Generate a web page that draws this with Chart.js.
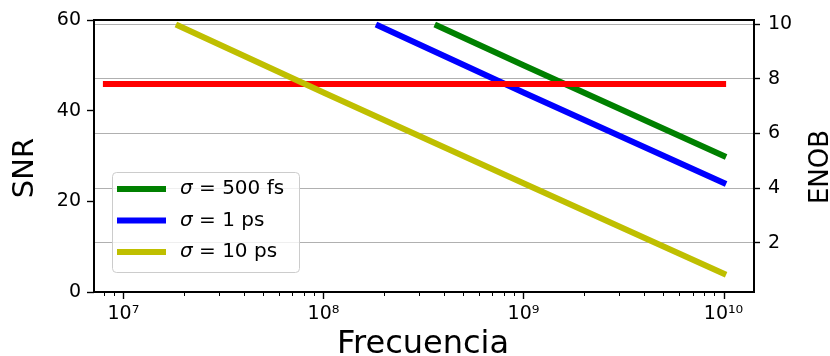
<!DOCTYPE html>
<html>
<head>
<meta charset="utf-8">
<script src="https://cdn.jsdelivr.net/npm/chart.js@4.4.0/dist/chart.umd.min.js"></script>
<style>
  html, body { margin: 0; padding: 0; background: #fff; }
  #wrap { width: 830px; height: 356px; }
</style>
</head>
<body>
<div id="wrap"><canvas id="snrChart"></canvas></div>
<script>
// values
const seriesLabels = ['σ = 500 fs', 'σ = 1 ps', 'σ = 10 ps'];
const seriesColors = ['#008000', '#0000ff', '#bfbf00'];

const freq500fs = [3.6e8, 1e9, 1.03e10];
const snr500fs = [59, 50, 29.8];
const freq1ps = [1.83e8, 1e9, 1.03e10];
const snr1ps = [59, 44, 23.8];
const freq10ps = [1.83e7, 1e8, 1e9, 1.03e10];
const snr10ps = [59, 44, 24, 3.8];
const freqLimit = [7.9e6, 1.03e10];
const snrLimit = [45.9, 45.9];

const snrTicks = [0, 20, 40, 60];
const enobTicks = [2, 4, 6, 8, 10];

const FONT = 'DejaVu Sans';
Chart.defaults.font.family = FONT;
Chart.defaults.color = '#000';

function points(xs, ys) {
    return xs.map((x, i) => ({ x: x, y: ys[i] }));
}

function supDigits(n) {
    const sup = '⁰¹²³⁴⁵⁶⁷⁸⁹';
    return String(n).split('').map(d => sup[+d]).join('');
}

function lineSet(label, xs, ys, color, order) {
    return {
        label: label,
        data: points(xs, ys),
        borderColor: color,
        backgroundColor: color,
        borderWidth: 6,
        borderCapStyle: 'butt',
        pointRadius: 0,
        tension: 0,
        clip: 0,
        order: order,
        yAxisID: 'y'
    };
}

// frame, log ticks, axis titles and legend
const decorations = {
    id: 'decorations',
    afterDraw(chart) {
        const ctx = chart.ctx;
        const ca = chart.chartArea;
        const xs = chart.scales.x;

        ctx.save();
        // minor/major ticks of the log axis
        ctx.strokeStyle = '#000';
        for (let n = 6; n <= 10; n++) {
            for (let k = 1; k <= 9; k++) {
                const v = k * Math.pow(10, n);
                if (v < xs.min || v > xs.max) continue;
                const px = Math.round(xs.getPixelForValue(v)) + 0.5;
                ctx.lineWidth = k === 1 ? 1.4 : 1;
                ctx.beginPath();
                ctx.moveTo(px, ca.bottom);
                ctx.lineTo(px, ca.bottom + (k === 1 ? 7 : 4));
                ctx.stroke();
            }
        }

        // frame
        ctx.lineWidth = 2;
        ctx.strokeRect(ca.left, ca.top, ca.right - ca.left, ca.bottom - ca.top);

        // axis titles
        ctx.fillStyle = '#000';
        ctx.textAlign = 'center';
        ctx.textBaseline = 'alphabetic';
        ctx.font = '32px "' + FONT + '"';
        ctx.fillText('Frecuencia', (ca.left + ca.right) / 2 - 1, 353);

        ctx.save();
        ctx.translate(33, 168);
        ctx.rotate(-Math.PI / 2);
        ctx.font = '29px "' + FONT + '"';
        ctx.fillText('SNR', 0, 0);
        ctx.restore();

        ctx.save();
        ctx.translate(828, 167);
        ctx.rotate(-Math.PI / 2);
        ctx.font = '26px "' + FONT + '"';
        ctx.fillText('ENOB', 0, 0);
        ctx.restore();

        // legend
        const bx = ca.left + 18, by = ca.top + 152, bw = 187, bh = 100;
        ctx.beginPath();
        ctx.roundRect(bx + 0.5, by + 0.5, bw, bh, 4);
        ctx.fillStyle = 'rgba(255,255,255,0.8)';
        ctx.fill();
        ctx.lineWidth = 1;
        ctx.strokeStyle = '#cccccc';
        ctx.stroke();

        ctx.textAlign = 'left';
        ctx.textBaseline = 'middle';
        seriesLabels.forEach((label, i) => {
            const y = by + 17 + i * 31.5;
            ctx.strokeStyle = seriesColors[i];
            ctx.lineWidth = 6;
            ctx.beginPath();
            ctx.moveTo(bx + 5, y);
            ctx.lineTo(bx + 54, y);
            ctx.stroke();

            ctx.fillStyle = '#000';
            ctx.font = 'italic 20px "' + FONT + '"';
            ctx.fillText(label.charAt(0), bx + 68, y);
            const w = ctx.measureText(label.charAt(0)).width;
            ctx.font = '20px "' + FONT + '"';
            ctx.fillText(label.slice(1), bx + 68 + w, y);
        });
        ctx.restore();
    }
};

const ctx = document.getElementById('snrChart').getContext('2d');

const config = {
    type: 'line',
    data: {
        datasets: [
            lineSet(seriesLabels[0], freq500fs, snr500fs, seriesColors[0], 3),
            lineSet(seriesLabels[1], freq1ps, snr1ps, seriesColors[1], 2),
            lineSet(seriesLabels[2], freq10ps, snr10ps, seriesColors[2], 0),
            lineSet('', freqLimit, snrLimit, '#ff0000', 1)
        ]
    },
    options: {
        responsive: true,
        maintainAspectRatio: false,
        animation: false,
        layout: { padding: { top: 20, left: 0, right: 0, bottom: 0 } },
        plugins: {
            legend: { display: false },
            tooltip: { enabled: false }
        },
        scales: {
            x: {
                type: 'logarithmic',
                min: 7.13e6,
                max: 1.42e10,
                border: { display: false },
                grid: { display: false, drawTicks: false },
                ticks: {
                    autoSkip: false,
                    maxRotation: 0,
                    minRotation: 0,
                    padding: 11,
                    font: { size: 19 },
                    callback: function(value) {
                        const e = Math.log10(value);
                        if (Math.abs(e - Math.round(e)) > 1e-6) return '';
                        return '10' + supDigits(Math.round(e));
                    }
                },
                afterFit: scale => { scale.height = 64; }
            },
            y: {
                type: 'linear',
                position: 'left',
                min: 0,
                max: 60,
                border: { display: false },
                grid: { drawOnChartArea: false, tickLength: 7, tickColor: '#000', tickWidth: 1.4 },
                ticks: { padding: 6, font: { size: 19 } },
                afterBuildTicks: scale => { scale.ticks = snrTicks.map(v => ({ value: v })); },
                afterFit: scale => { scale.width = 94; }
            },
            y1: {
                type: 'linear',
                position: 'right',
                min: 0.19,
                max: 10.16,
                border: { display: false },
                grid: { drawOnChartArea: true, color: '#b0b0b0', lineWidth: 1, tickLength: 6, tickColor: '#000', tickWidth: 1.4 },
                ticks: { padding: 8, font: { size: 19 } },
                afterBuildTicks: scale => { scale.ticks = enobTicks.map(v => ({ value: v })); },
                afterFit: scale => { scale.width = 76; }
            }
        }
    },
    plugins: [decorations]
};

window.snrChart = new Chart(ctx, config);
</script>
</body>
</html>
